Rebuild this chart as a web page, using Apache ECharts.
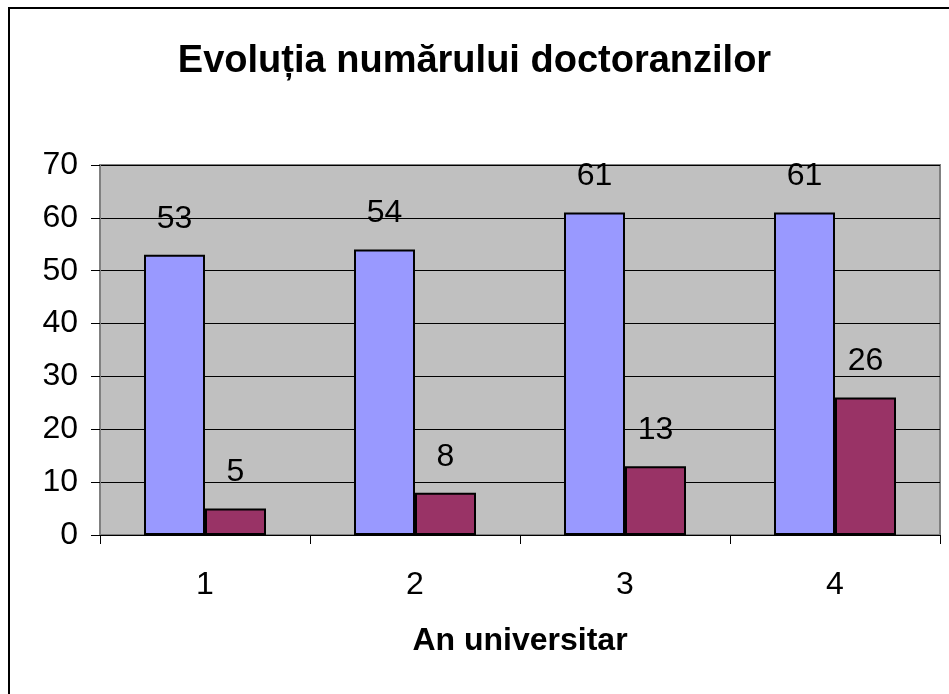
<!DOCTYPE html>
<html><head><meta charset="utf-8">
<script src="https://cdn.jsdelivr.net/npm/echarts@6/dist/echarts.min.js"></script>
<style>html,body{margin:0;padding:0;background:#fff}#c{width:949px;height:694px}</style>
</head><body><div id="c"></div>
<script>
const titleText = 'Evoluția numărului doctoranzilor';
const xAxisName = 'An universitar';
const categories = ['1', '2', '3', '4'];
const seriesA = [53, 54, 61, 61];
const seriesB = [5, 8, 13, 26];
const yTicks = [0, 10, 20, 30, 40, 50, 60, 70];

const chart = echarts.init(document.getElementById('c'), null, {renderer: 'canvas'});
const font = '"Liberation Sans", Arial, sans-serif';
const lbl = {show: true, position: 'top', distance: 20, color: '#000', fontSize: 32, fontFamily: font};
chart.setOption({
  animation: false,
  backgroundColor: '#fff',
  title: {text: titleText, left: 'center', top: 38, textStyle: {fontFamily: font, fontWeight: 'bold', fontSize: 38, color: '#000'}},
  graphic: [{type: 'rect', shape: {x: 9, y: 8, width: 1000, height: 1000}, style: {fill: 'none', stroke: '#000', lineWidth: 2}, silent: true}],
  grid: {left: 100, right: 9, top: 165, bottom: 159, show: true, backgroundColor: '#C0C0C0', borderColor: '#808080', borderWidth: 2},
  xAxis: {type: 'category', data: categories, name: xAxisName, nameLocation: 'middle', nameGap: 90,
    nameTextStyle: {fontFamily: font, fontWeight: 'bold', fontSize: 32, color: '#000'},
    axisLine: {lineStyle: {color: '#000', width: 1}}, axisTick: {show: true, length: 9, lineStyle: {color: '#000'}},
    axisLabel: {fontFamily: font, fontSize: 32, color: '#000', margin: 34}},
  yAxis: {type: 'value', min: yTicks[0], max: yTicks[yTicks.length - 1], interval: 10,
    axisLine: {show: true, lineStyle: {color: '#808080', width: 2}}, axisTick: {show: true, length: 9, lineStyle: {color: '#000'}},
    axisLabel: {fontFamily: font, fontSize: 32, color: '#000', margin: 22},
    splitLine: {lineStyle: {color: '#000', width: 1}}},
  series: [
    {type: 'bar', data: seriesA, barWidth: 61, barGap: '0%', itemStyle: {color: '#9999FF', borderColor: '#000', borderWidth: 2}, label: lbl},
    {type: 'bar', data: seriesB, barWidth: 61, barGap: '0%', itemStyle: {color: '#993366', borderColor: '#000', borderWidth: 2}, label: lbl}
  ]
});
</script></body></html>
